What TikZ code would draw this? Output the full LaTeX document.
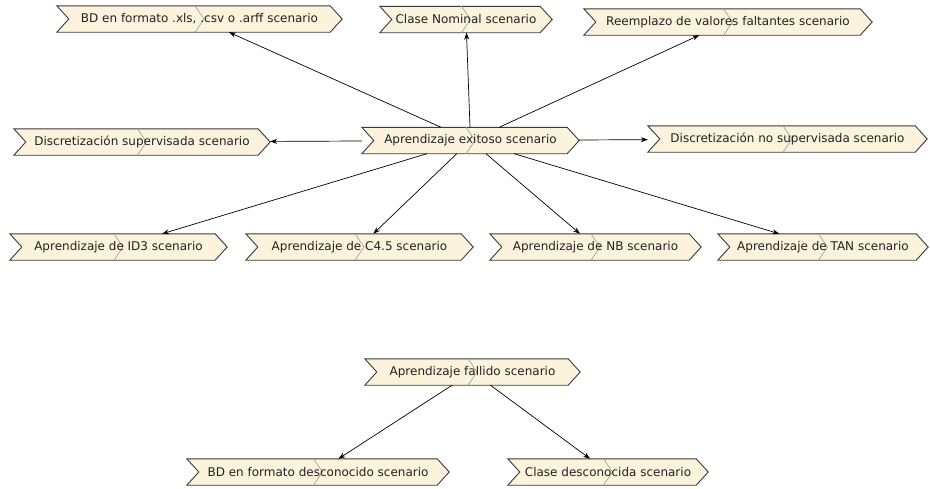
\documentclass[tikz,border=0pt]{standalone}
\usepackage{fontspec}
\setmainfont{DejaVu Sans}
\usetikzlibrary{arrows.meta,backgrounds}

\definecolor{scenfill}{HTML}{FCF3DD}
\definecolor{scenline}{HTML}{3A3A3A}
\definecolor{scenmid}{HTML}{A8A39A}
\definecolor{scentext}{HTML}{222222}

\tikzset{
  scen/.style={minimum height=26pt, inner sep=0pt, text=scentext,
    font=\fontsize{12}{14}\selectfont},
  arr/.style={-{Stealth[length=7pt,width=5pt]}, line width=0.7pt, black},
}

% chevron outline of a scenario node, drawn behind its text
\newcommand\scenshape[1]{%
  \filldraw[fill=scenfill, draw=scenline, line width=0.9pt, line join=miter]
    (#1.north west) -- ([xshift=-12pt]#1.north east) -- (#1.east)
    -- ([xshift=-12pt]#1.south east) -- (#1.south west)
    -- ([xshift=12pt]#1.west) -- cycle;
  \draw[scenmid, line width=0.7pt]
    ([xshift=-4.5pt]#1.north) -- ([xshift=4.5pt]#1.center) -- ([xshift=-4.5pt]#1.south);
}

\begin{document}
\begin{tikzpicture}[x=1pt, y=-1pt]
  \useasboundingbox (0,0) rectangle (930,488);

  % successful learning and its sub-scenarios
  \node[scen, minimum width=285pt] (bdxls)  at (199.5,19)  {BD en formato .xls, .csv o .arff scenario};
  \node[scen, minimum width=172pt] (nomin)  at (466,19.5)  {Clase Nominal scenario};
  \node[scen, minimum width=288pt] (reemp)  at (728,22)    {Reemplazo de valores faltantes scenario};
  \node[scen, minimum width=256pt] (dsup)   at (142,142)   {Discretización supervisada scenario};
  \node[scen, minimum width=217pt] (exito)  at (470.5,140.5) {Aprendizaje exitoso scenario};
  \node[scen, minimum width=279pt] (dnosup) at (787.5,139) {Discretización no supervisada scenario};
  \node[scen, minimum width=217pt] (id3)    at (118.5,247) {Aprendizaje de ID3 scenario};
  \node[scen, minimum width=227pt] (c45)    at (359.5,247) {Aprendizaje de C4.5 scenario};
  \node[scen, minimum width=211pt] (nb)     at (595.5,247) {Aprendizaje de NB scenario};
  \node[scen, minimum width=210pt] (tan)    at (823,247)   {Aprendizaje de TAN scenario};

  % failed learning and its sub-scenarios
  \node[scen, minimum width=215pt] (fallo)  at (472.5,372) {Aprendizaje fallido scenario};
  \node[scen, minimum width=262pt] (bddesc) at (318,472)   {BD en formato desconocido scenario};
  \node[scen, minimum width=200pt] (cdesc)  at (608,472)   {Clase desconocida scenario};

  \begin{scope}[on background layer]
    \foreach \n in {bdxls,nomin,reemp,dsup,exito,dnosup,id3,c45,nb,tan,fallo,bddesc,cdesc}
      {\scenshape{\n}}
  \end{scope}

  \foreach \n in {bdxls,nomin,reemp,dsup,dnosup,id3,c45,nb,tan}
    {\draw[arr] (exito) -- (\n);}
  \foreach \n in {bddesc,cdesc}
    {\draw[arr] (fallo) -- (\n);}
\end{tikzpicture}
\end{document}
